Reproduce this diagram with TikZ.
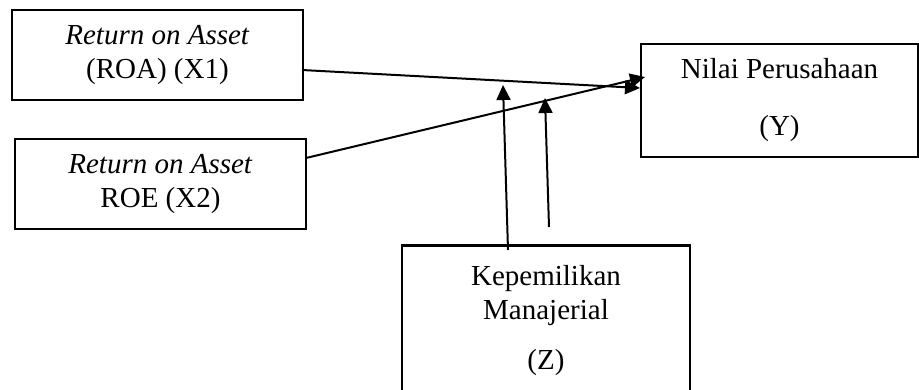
\documentclass[tikz,border=0pt]{standalone}
\usepackage{fontspec}
\setmainfont{Liberation Serif}
\usetikzlibrary{arrows.meta}
\begin{document}
\begin{tikzpicture}[x=1pt,y=-1pt,
  box/.style={draw,line width=2.8pt,inner sep=0pt,align=center,
    font=\fontsize{29}{34}\selectfont},
  link/.style={line width=2pt,-{Triangle[length=15pt,width=14pt]}}]
\useasboundingbox[fill=white] (0,0) rectangle (919,389);
\clip (0,0) rectangle (919,389);
\node[box,minimum width=291pt,minimum height=90pt] (x1) at (157.5,55)
  {\textit{Return on Asset}\\(ROA) (X1)};
\node[box,minimum width=291pt,minimum height=90pt] (x2) at (160.5,184)
  {\textit{Return on Asset}\\ROE (X2)};
\node[box,minimum width=277pt,minimum height=113pt] (y) at (779.5,100.5)
  {Nilai Perusahaan\\[23pt](Y)};
\node[box,minimum width=288pt,minimum height=150pt,anchor=north] (z) at (546,244)
  {Kepemilikan\\Manajerial\\[16pt](Z)};
\coordinate (a1s) at (302,70);
\coordinate (a1e) at (640,88);
\coordinate (a2s) at (306,158);
\coordinate (a2e) at (645,77);
\coordinate (v1s) at (508,250);
\coordinate (v1e) at (503,85);
\coordinate (v2s) at (549,227);
\coordinate (v2e) at (545,98);
\draw[link] (a1s) -- (a1e);
\draw[link] (a2s) -- (a2e);
\draw[link] (v1s) -- (v1e);
\draw[link] (v2s) -- (v2e);
\end{tikzpicture}
\end{document}
